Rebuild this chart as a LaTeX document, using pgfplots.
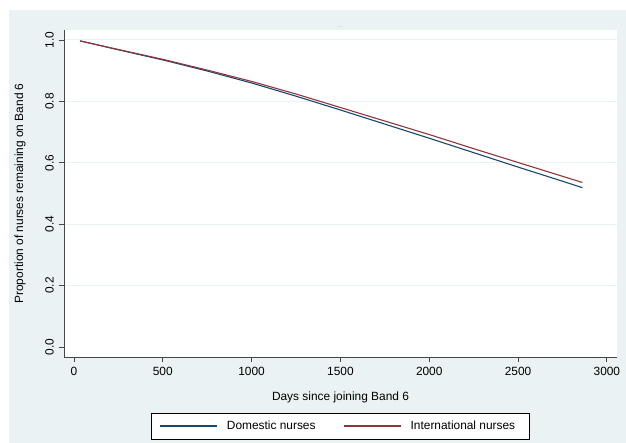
\documentclass[border=0pt]{standalone}
\usepackage{pgfplots}
\pgfplotsset{compat=1.18}
\usepackage{fontspec}
\setmainfont{Liberation Sans}
\definecolor{bgc}{RGB}{234,242,243}
\definecolor{gridc}{RGB}{234,242,243}
\definecolor{stnavy}{RGB}{26,71,111}
\definecolor{stmaroon}{RGB}{144,53,59}
\definecolor{axc}{RGB}{70,70,70}
\begin{document}
\begin{tikzpicture}
\fill[white] (0,0) rectangle (626pt,443pt);
\fill[bgc] (9pt,0) rectangle (626pt,433pt);
\node[text=gray, font=\fontsize{3}{3}\selectfont, inner sep=0pt] at (340.5pt,415.5pt) {-- --};
\begin{axis}[
  at={(64pt,86pt)}, anchor=south west,
  scale only axis, width=553pt, height=327pt,
  xmin=-56, xmax=3057, ymin=-0.0325, ymax=1.0325,
  axis background/.style={fill=white},
  axis x line*=bottom, axis y line*=left,
  axis line style={draw=axc, line width=0.8pt, -},
  every tick/.style={draw=axc, line width=0.8pt},
  tick align=outside, major tick length=5pt,
  xtick={0,500,...,3000},
  ytick={0.2,0.4,0.6,0.8,1.0},
  extra y ticks={0},
  extra y tick style={grid=none},
  ymajorgrids, grid style={draw=gridc, line width=1pt},
  font=\fontsize{11.9}{14}\selectfont,
  /pgf/number format/assume math mode=true,
  xticklabel style={/pgf/number format/1000 sep={}, inner sep=0pt, anchor=north},
  xticklabel shift=5pt,
  yticklabel style={rotate=90, anchor=south, inner sep=0pt, /pgf/number format/fixed, /pgf/number format/fixed zerofill, /pgf/number format/precision=1},
  yticklabel shift=5pt,
  xlabel={Days since joining Band 6},
  ylabel={Proportion of nurses remaining on Band 6},
  xlabel style={at={(axis description cs:0.5,-0.1223)}, anchor=center, inner sep=0pt},
  ylabel style={at={(axis description cs:-0.0796,0.5)}, anchor=center, inner sep=0pt},
  legend columns=2,
  legend style={at={(axis description cs:0.5,-0.211)}, anchor=center,
    draw=black, line width=0.8pt, fill=white, inner xsep=8pt, inner ysep=8pt,
    nodes={inner sep=0pt, line width=0.4pt},
    /tikz/every odd column/.append style={column sep=9pt},
    /tikz/every even column/.append style={column sep=28pt},
    font=\fontsize{11.9}{14}\selectfont},
  legend image code/.code={\draw[#1] (0pt,0pt) -- (57pt,0pt);},
]
\addplot[stnavy, line width=1.1pt] coordinates {
(34,0.997) (250,0.968) (500,0.935) (750,0.899) (1000,0.860) (1250,0.817)
(1500,0.772) (1750,0.726) (2000,0.680) (2250,0.633) (2500,0.586) (2750,0.540) (2862,0.519)};
\addlegendentry{Domestic nurses}
\addplot[stmaroon, line width=1.1pt] coordinates {
(34,0.997) (250,0.969) (500,0.937) (750,0.902) (1000,0.865) (1250,0.824)
(1500,0.780) (1750,0.736) (2000,0.692) (2250,0.646) (2500,0.601) (2750,0.556) (2862,0.536)};
\addlegendentry{International nurses\hspace*{6pt}}
\end{axis}
\pgfresetboundingbox
\useasboundingbox (0,0) rectangle (626pt,443pt);
\end{tikzpicture}
\end{document}
